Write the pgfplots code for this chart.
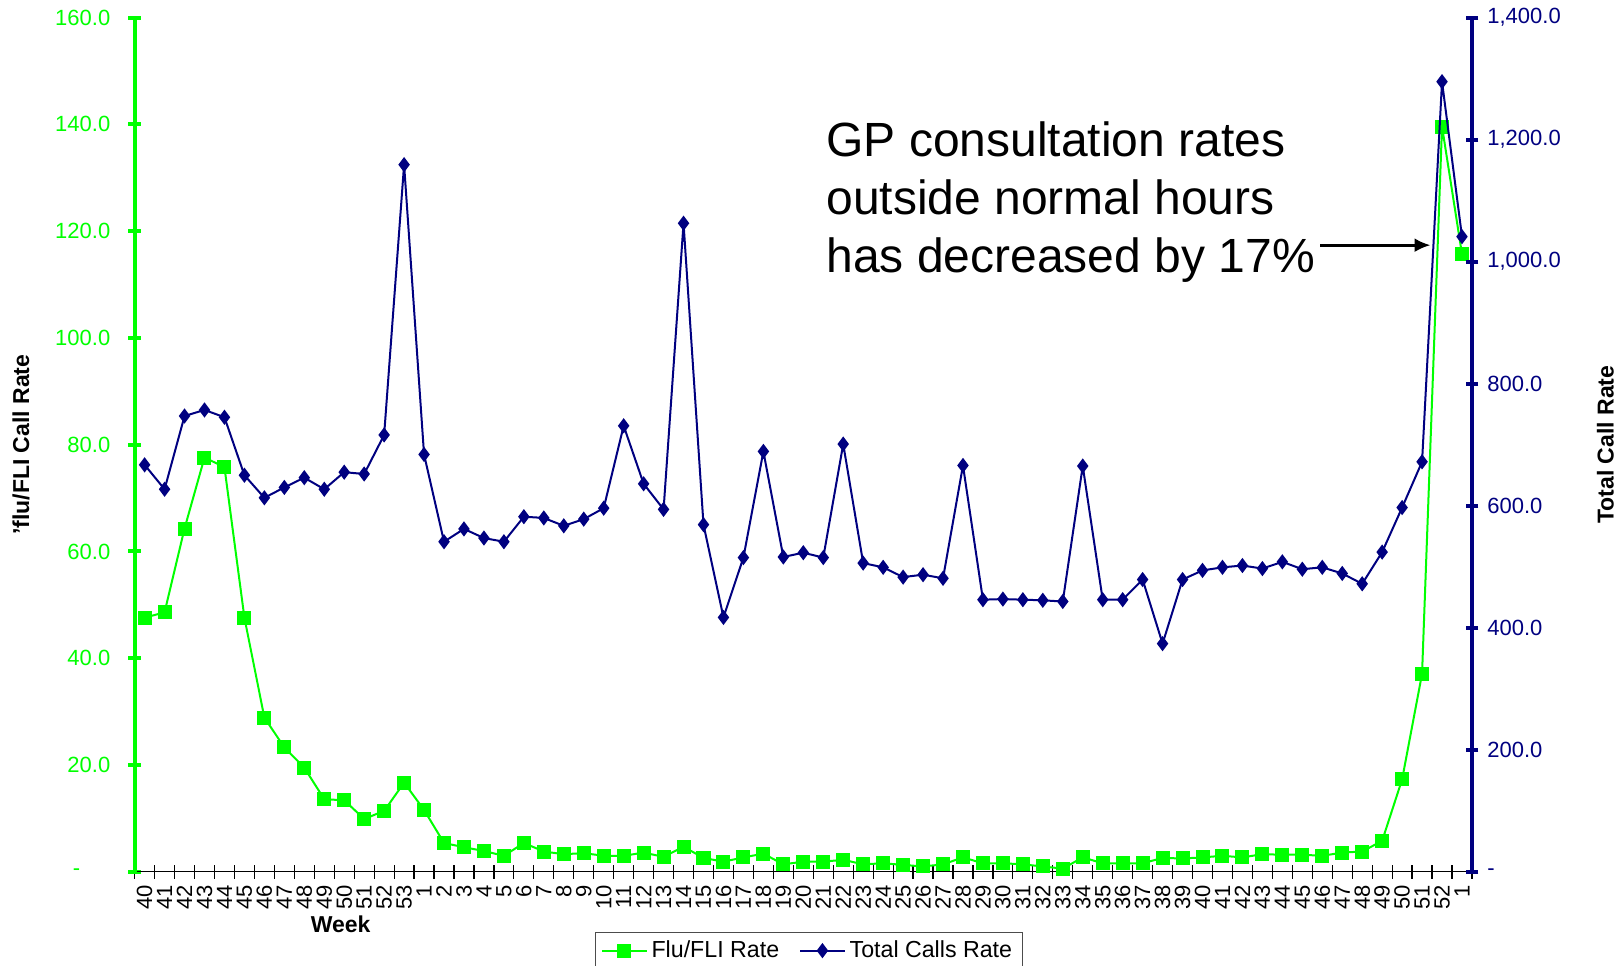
\documentclass[border=0pt]{standalone}
\usepackage{pgfplots}
\pgfplotsset{compat=1.18}
\usepackage{pgfplotstable}
\usepackage{fontspec}
\setmainfont{Liberation Sans}
\usetikzlibrary{arrows.meta}
\definecolor{flugreen}{HTML}{00FF00}
\definecolor{navyb}{HTML}{000080}

\pgfplotstableread{
x y
0 47.6
1 48.6
2 64.3
3 77.6
4 75.8
5 47.6
6 28.9
7 23.3
8 19.5
9 13.6
10 13.4
11 9.9
12 11.4
13 16.7
14 11.6
15 5.4
16 4.6
17 3.9
18 3.0
19 5.4
20 3.8
21 3.3
22 3.5
23 3.0
24 3.0
25 3.6
26 2.8
27 4.7
28 2.6
29 1.9
30 2.7
31 3.4
32 1.4
33 1.9
34 1.9
35 2.25
36 1.4
37 1.6
38 1.3
39 1.0
40 1.4
41 2.7
42 1.6
43 1.6
44 1.4
45 1.0
46 0.6
47 2.7
48 1.6
49 1.6
50 1.6
51 2.6
52 2.5
53 2.7
54 3.0
55 2.7
56 3.3
57 3.2
58 3.2
59 3.0
60 3.6
61 3.8
62 5.8
63 17.3
64 37.1
65 139.6
66 115.7
}\flu

\pgfplotstableread{
x y
0 667
1 627
2 747
3 757
4 745
5 650
6 613
7 630
8 646
9 627
10 655
11 652
12 716
13 1159
14 684
15 541
16 562
17 547
18 541
19 582
20 580
21 567
22 578
23 596
24 731
25 636
26 594
27 1063
28 569
29 417
30 515
31 689
32 516
33 523
34 515
35 701
36 506
37 499
38 483
39 487
40 481
41 666
42 446
43 447
44 446
45 445
46 443
47 665
48 446
49 446
50 479
51 374
52 479
53 494
54 499
55 502
56 497
57 508
58 496
59 499
60 489
61 472
62 524
63 597
64 672
65 1295
66 1041
}\calls

\begin{document}
\begin{tikzpicture}
\begin{axis}[name=ax1, scale only axis, width=668.5pt, height=427pt,
  xmin=-0.5, xmax=66.5, ymin=0, ymax=160,
  axis y line*=left, axis x line*=bottom,
  y axis line style={flugreen, line width=2pt, -},
  x axis line style={black, line width=0.6pt, -},
  xtick={0,...,66},
  xticklabels={40,41,42,43,44,45,46,47,48,49,50,51,52,53,1,2,3,4,5,6,7,8,9,10,11,12,13,14,15,16,17,18,19,20,21,22,23,24,25,26,27,28,29,30,31,32,33,34,35,36,37,38,39,40,41,42,43,44,45,46,47,48,49,50,51,52,1},
  major x tick style={draw=none},
  minor xtick={-0.5,0.5,...,66.5},
  minor x tick style={black, line width=0.6pt},
  minor tick length=7pt,
  major tick length=6.3pt,
  tick align=center,
  ytick={0,20,...,160},
  yticklabels={-\kern15pt,20.0,40.0,60.0,80.0,100.0,120.0,140.0,160.0},
  y tick style={flugreen, line width=2pt},
  yticklabel style={flugreen, font=\fontsize{11pt}{13pt}\selectfont, xshift=-5.5pt},
  xticklabel style={rotate=90, anchor=east, font=\fontsize{11pt}{13pt}\selectfont},
  xlabel={Week},
  xlabel style={at={(axis description cs:0.154,-0.0615)}, anchor=center, font=\fontsize{11.5pt}{13pt}\selectfont\bfseries},
  ylabel={'flu/FLI Call Rate},
  ylabel style={at={(axis description cs:-0.085,0.5)}, anchor=center, font=\fontsize{11.5pt}{13pt}\selectfont\bfseries},
]
\addplot[flugreen, line width=1pt, mark=square*, mark size=3pt] table[x=x,y=y] {\flu};
\end{axis}
\begin{axis}[scale only axis, width=668.5pt, height=427pt,
  xmin=-0.5, xmax=66.5, ymin=0, ymax=1400,
  axis x line=none, axis y line*=right,
  y axis line style={navyb, line width=2pt, -},
  major tick length=6.3pt, tick align=center,
  ytick={0,200,...,1400},
  yticklabels={-,200.0,400.0,600.0,800.0,{1,000.0},{1,200.0},{1,400.0}},
  y tick style={navyb, line width=2pt},
  yticklabel style={navyb, font=\fontsize{11pt}{13pt}\selectfont, xshift=1pt},
  ylabel={Total Call Rate},
  ylabel style={at={(axis description cs:1.0998,0.5)}, anchor=center, font=\fontsize{11.5pt}{13pt}\selectfont\bfseries},
  legend style={at={(axis description cs:0.504,-0.0708)}, anchor=north, draw=black!70, font=\fontsize{11.6pt}{13pt}\selectfont, /tikz/every even column/.append style={column sep=8pt}},
  legend columns=2,
  legend image code/.code={\draw[mark repeat=2,mark phase=2] plot coordinates {(0cm,0cm) (0.39cm,0cm) (0.78cm,0cm)};},
]
\addlegendimage{flugreen, line width=1pt, mark=square*, mark size=3pt}
\addlegendentry{Flu/FLI Rate}
\addplot[navyb, line width=1pt, mark=diamond*, mark size=3pt] table[x=x,y=y] {\calls};
\addlegendentry{Total Calls Rate}
\node[anchor=north west, align=left, inner sep=0pt, font=\fontsize{24pt}{29pt}\selectfont] at (axis description cs:0.517,0.879) {GP consultation rates\\outside normal hours\\has decreased by 17\%};
\draw[-{Latex[length=8pt,width=7pt]}, line width=1.4pt] (axis description cs:0.8866,0.7336) -- (axis description cs:0.969,0.7336);
\end{axis}
\pgfresetboundingbox
\path ([xshift=-67.3pt,yshift=-46.75pt]ax1.south west) rectangle ([xshift=75.5pt,yshift=8.8pt]ax1.north east);
\end{tikzpicture}
\end{document}
